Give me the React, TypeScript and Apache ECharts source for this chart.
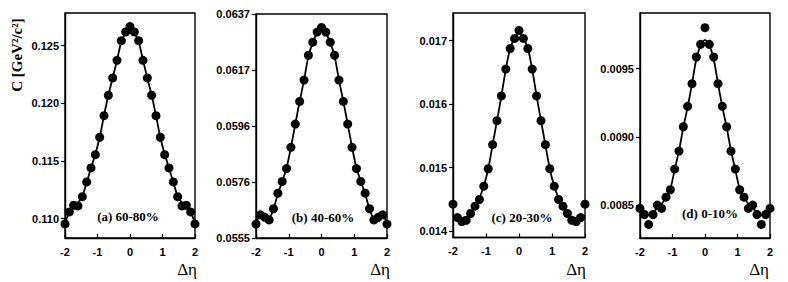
import React, { useEffect, useRef } from "react";
import * as echarts from "echarts";

const etaValues = [
  -2, -1.867, -1.733, -1.6, -1.467, -1.333, -1.2, -1.067, -0.933, -0.8, -0.667,
  -0.533, -0.4, -0.267, -0.133, 0, 0.133, 0.267, 0.4, 0.533, 0.667, 0.8, 0.933,
  1.067, 1.2, 1.333, 1.467, 1.6, 1.733, 1.867, 2,
];

const dataA = [
  0.10955, 0.11059, 0.11117, 0.11111, 0.11191, 0.11319, 0.1144, 0.11555, 0.11706,
  0.11893, 0.1207, 0.1222, 0.12373, 0.12543, 0.12619, 0.12665, 0.12619, 0.12543,
  0.12373, 0.1222, 0.1207, 0.11893, 0.11706, 0.11555, 0.1144, 0.11319, 0.11191,
  0.11111, 0.11117, 0.11059, 0.10955,
];
const fitA = [
  0.10965, 0.11055, 0.1111, 0.1114, 0.11195, 0.11315, 0.1144, 0.11558, 0.11706,
  0.11893, 0.1207, 0.1222, 0.12373, 0.12535, 0.1261, 0.1264, 0.1261, 0.12535,
  0.12373, 0.1222, 0.1207, 0.11893, 0.11706, 0.11558, 0.1144, 0.11315, 0.11195,
  0.1114, 0.1111, 0.11055, 0.10965,
];

const dataB = [
  0.05601, 0.05635, 0.05626, 0.05616, 0.05657, 0.05714, 0.05757, 0.05804, 0.05882,
  0.05967, 0.0605, 0.06128, 0.06219, 0.06267, 0.06304, 0.06321, 0.06304, 0.06267,
  0.06219, 0.06128, 0.0605, 0.05967, 0.05882, 0.05804, 0.05757, 0.05714, 0.05657,
  0.05616, 0.05626, 0.05635, 0.05601,
];
const fitB = [
  0.05605, 0.0563, 0.05628, 0.05625, 0.05655, 0.05712, 0.05757, 0.05806, 0.05882,
  0.05967, 0.0605, 0.06128, 0.06215, 0.06265, 0.063, 0.06312, 0.063, 0.06265,
  0.06215, 0.06128, 0.0605, 0.05967, 0.05882, 0.05806, 0.05757, 0.05712, 0.05655,
  0.05625, 0.05628, 0.0563, 0.05605,
];

const dataC = [
  0.014425, 0.014214, 0.014151, 0.014172, 0.014278, 0.014393, 0.014499, 0.014709,
  0.014983, 0.015362, 0.015741, 0.016131, 0.016553, 0.016878, 0.017036, 0.017163,
  0.017036, 0.016878, 0.016553, 0.016131, 0.015741, 0.015362, 0.014983, 0.014709,
  0.014499, 0.014393, 0.014278, 0.014172, 0.014151, 0.014214, 0.014425,
];
const fitC = [
  0.01425, 0.01419, 0.01417, 0.01419, 0.01427, 0.01439, 0.01452, 0.01471, 0.01498,
  0.01536, 0.01574, 0.01613, 0.01655, 0.01688, 0.01704, 0.01712, 0.01704, 0.01688,
  0.01655, 0.01613, 0.01574, 0.01536, 0.01498, 0.01471, 0.01452, 0.01439, 0.01427,
  0.01419, 0.01417, 0.01419, 0.01425,
];

const dataD = [
  0.008477, 0.008433, 0.00836, 0.008433, 0.008502, 0.008477, 0.00856, 0.008614,
  0.008765, 0.008897, 0.009075, 0.009224, 0.00939, 0.009585, 0.009678, 0.0098,
  0.009678, 0.009585, 0.00939, 0.009224, 0.009075, 0.008897, 0.008765, 0.008614,
  0.00856, 0.008477, 0.008502, 0.008433, 0.00836, 0.008433, 0.008477,
];
const fitD = [
  0.00846, 0.00843, 0.00843, 0.00845, 0.00848, 0.00851, 0.00856, 0.00862, 0.00876,
  0.0089, 0.00907, 0.00922, 0.00939, 0.00957, 0.00967, 0.00971, 0.00967, 0.00957,
  0.00939, 0.00922, 0.00907, 0.0089, 0.00876, 0.00862, 0.00856, 0.00851, 0.00848,
  0.00845, 0.00843, 0.00843, 0.00846,
];

const yTicksA = [0.11, 0.115, 0.12, 0.125];
const yLabelsA = ["0.110", "0.115", "0.120", "0.125"];
const yTicksB = [0.0555, 0.05755, 0.0596, 0.06165, 0.0637];
const yLabelsB = ["0.0555", "0.0576", "0.0596", "0.0617", "0.0637"];
const yTicksC = [0.014, 0.015, 0.016, 0.017];
const yLabelsC = ["0.014", "0.015", "0.016", "0.017"];
const yTicksD = [0.0085, 0.009, 0.0095];
const yLabelsD = ["0.0085", "0.0090", "0.0095"];

const panelLabels = ["(a) 60-80%", "(b) 40-60%", "(c) 20-30%", "(d) 0-10%"];

const panels = [
  { data: dataA, fit: fitA, ticks: yTicksA, labels: yLabelsA, min: 0.10833, max: 0.12783,
    grid: { left: 65, top: 13, width: 130, height: 225 }, label: { x: 128, y: 216 }, eta: 197 },
  { data: dataB, fit: fitB, ticks: yTicksB, labels: yLabelsB, min: 0.0555, max: 0.0637,
    grid: { left: 256, top: 14, width: 131, height: 224 }, label: { x: 323, y: 217 }, eta: 390 },
  { data: dataC, fit: fitC, ticks: yTicksC, labels: yLabelsC, min: 0.0139, max: 0.017437,
    grid: { left: 453, top: 13, width: 132, height: 224.5 }, label: { x: 522, y: 217 }, eta: 586 },
  { data: dataD, fit: fitD, ticks: yTicksD, labels: yLabelsD, min: 0.008261, max: 0.009907,
    grid: { left: 640, top: 13, width: 130, height: 225 }, label: { x: 710, y: 213 }, eta: 769 },
];

const SANS = "Liberation Sans, Arial, sans-serif";
const SERIF = "Liberation Serif, Times New Roman, serif";

export default function App() {
  const ref = useRef<HTMLDivElement>(null);
  useEffect(() => {
    if (!ref.current) return;
    const chart = echarts.init(ref.current, null, { renderer: "svg" });
    const grids: any[] = [];
    const xAxes: any[] = [];
    const yAxes: any[] = [];
    const series: any[] = [];
    const graphics: any[] = [];
    panels.forEach((p, i) => {
      grids.push({ ...p.grid, show: true, borderColor: "#000", borderWidth: 1.4, backgroundColor: "transparent" });
      xAxes.push({
        type: "value", gridIndex: i, min: -2, max: 2, interval: 1,
        axisLine: { show: true, onZero: false, lineStyle: { color: "#000", width: 1.4 } },
        axisTick: { show: true, inside: true, length: 4, lineStyle: { color: "#000", width: 1.2 } },
        splitLine: { show: false },
        axisLabel: { color: "#000", fontSize: 11, fontWeight: "bold", fontFamily: SANS, margin: 8 },
      });
      const labs = p.labels;
      const tks = p.ticks;
      yAxes.push({
        type: "value", gridIndex: i, min: p.min, max: p.max,
        axisLine: { show: true, onZero: false, lineStyle: { color: "#000", width: 1.4 } },
        axisTick: { show: true, inside: false, length: 4, customValues: tks, lineStyle: { color: "#000", width: 1.2 } },
        splitLine: { show: false },
        axisLabel: {
          customValues: tks,
          color: "#000", fontSize: 11, fontWeight: "bold", fontFamily: SANS, margin: 6,
          formatter: (v: number) => {
            let best = 0;
            for (let k = 1; k < tks.length; k++) if (Math.abs(tks[k] - v) < Math.abs(tks[best] - v)) best = k;
            return labs[best];
          },
        },
      });
      series.push({
        type: "line", xAxisIndex: i, yAxisIndex: i,
        data: etaValues.map((x, k) => [x, p.fit[k]]),
        smooth: 0.25, symbol: "none", lineStyle: { color: "#000", width: 1.8 }, z: 2,
      });
      series.push({
        type: "scatter", xAxisIndex: i, yAxisIndex: i,
        data: etaValues.map((x, k) => [x, p.data[k]]),
        symbol: "circle", symbolSize: 9, itemStyle: { color: "#000", opacity: 1 }, z: 3,
      });
      graphics.push({
        type: "text", x: p.label.x, y: p.label.y,
        style: { text: panelLabels[i], fill: "#000", fontSize: 13, fontWeight: "bold", fontFamily: SERIF, align: "center", verticalAlign: "middle" },
      });
      graphics.push({
        type: "text", x: p.eta, y: 269,
        style: { text: "Δη", fill: "#000", fontSize: 17, fontFamily: SERIF, align: "right", verticalAlign: "middle" },
      });
    });
    graphics.push({
      type: "text", x: 17, y: 55, rotation: Math.PI / 2,
      style: { text: "C [GeV²/c²]", fill: "#000", fontSize: 15, fontWeight: "bold", fontFamily: SERIF, align: "center", verticalAlign: "middle" },
    });
    chart.setOption({
      animation: false,
      backgroundColor: "#fff",
      grid: grids,
      xAxis: xAxes,
      yAxis: yAxes,
      series,
      graphic: graphics,
    });
    return () => chart.dispose();
  }, []);
  return <div ref={ref} style={{ position: "fixed", left: 0, top: 0, width: 788, height: 282 }} />;
}
